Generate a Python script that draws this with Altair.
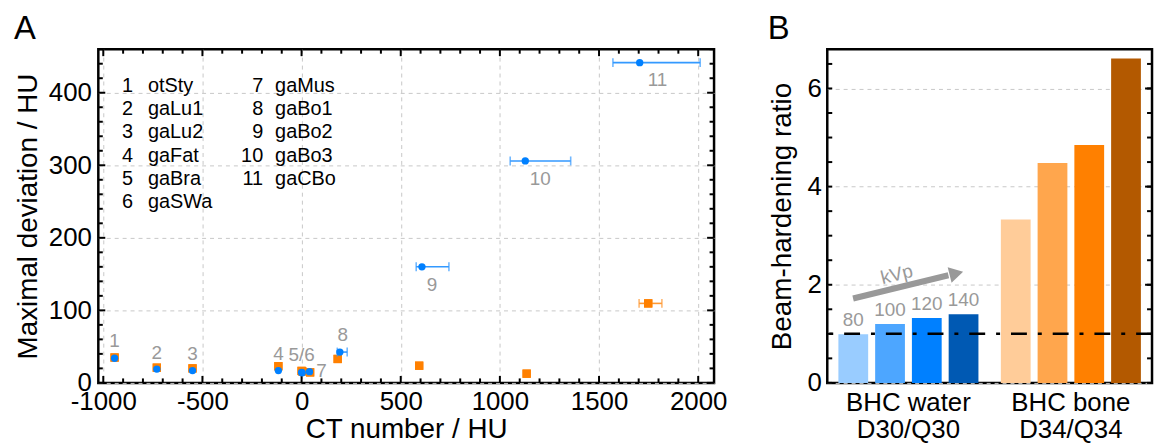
import altair as alt
import pandas as pd

# ---------------- Panel A data ----------------
ids = ["1", "2", "3", "4", "5", "6", "7", "8", "9", "10", "11"]
names = ["otSty", "gaLu1", "gaLu2", "gaFat", "gaBra", "gaSWa",
         "gaMus", "gaBo1", "gaBo2", "gaBo3", "gaCBo"]

ct_blue = [-943, -730, -550, -117, 0, 3, 40, 193, 607, 1128, 1705]
dev_blue = [34, 19, 17, 17, 14.5, 14, 15.5, 42.5, 160, 306, 441.5]
ct_blue_lo = [-943, -730, -550, -117, 0, 3, 40, 180, 578, 1052, 1570]
ct_blue_hi = [-943, -730, -550, -117, 0, 3, 40, 230, 743, 1357, 2010]

ct_orange = [-943, -730, -550, -117, 0, 3, 43, 182, 593, 1135, 1748]
dev_orange = [35, 21, 20, 23, 16.5, 16, 14.5, 33, 23.7, 12.7, 109.6]
ct_orange_lo = [-943, -730, -550, -117, 0, 3, 43, 182, 593, 1135, 1702]
ct_orange_hi = [-943, -730, -550, -117, 0, 3, 43, 182, 593, 1135, 1817]

point_labels = ["1", "2", "3", "4", "5/6", "", "7", "8", "9", "10", "11"]

x_ticks_major = [-1000, -500, 0, 500, 1000, 1500, 2000]
y_ticks_major = [0, 100, 200, 300, 400]

# ---------------- Panel B data ----------------
groups = ["BHC water\nD30/Q30", "BHC bone\nD34/Q34"]
kvp = ["80", "100", "120", "140"]
water_ratio = [0.99, 1.20, 1.32, 1.40]
bone_ratio = [3.33, 4.48, 4.85, 6.61]
water_colors = ["#99CCFF", "#4DA6FF", "#0080FF", "#0059B3"]
bone_colors = ["#FFCC99", "#FFA64D", "#FF8000", "#B35900"]
reference_ratio = [1]
b_ticks_major = [0, 2, 4, 6]

FONT = "Liberation Sans"
GRAY = "#999999"
BLUE = "#0080FF"
BLUE_ERR = "#3399FF"
ORANGE = "#FF8000"
ORANGE_ERR = "#FF9933"

# ---------------- Panel A ----------------
WA, HA = 620, 336
XD = [-1025, 2080]
YD = [0, 460]
xs = alt.Scale(domain=XD, nice=False, zero=False)
ys = alt.Scale(domain=YD, nice=False, zero=False)
ax_xa = alt.Axis(title="CT number / HU", values=x_ticks_major, ticks=False,
                 domain=False, grid=True, labelPadding=6, titlePadding=1,
                 labelExpr="'' + datum.value")
ax_ya = alt.Axis(title="Maximal deviation / HU", values=y_ticks_major,
                 ticks=False, domain=False, grid=True, labelPadding=7,
                 titlePadding=6, labelExpr="'' + datum.value")


def XA(field):
    return alt.X(field, scale=xs, axis=ax_xa)


def YA(field):
    return alt.Y(field, scale=ys, axis=ax_ya)


df_blue = pd.DataFrame({"id": ids, "ct": ct_blue, "dev": dev_blue,
                        "lo": ct_blue_lo, "hi": ct_blue_hi, "lab": point_labels})
df_or = pd.DataFrame({"id": ids, "ct": ct_orange, "dev": dev_orange,
                      "lo": ct_orange_lo, "hi": ct_orange_hi})

xt = pd.DataFrame({"v": list(range(-1000, 2001, 100))})
xt["major"] = xt["v"] % 500 == 0
yt = pd.DataFrame({"v": list(range(0, 461, 20))})
yt["major"] = yt["v"] % 100 == 0


def rule_x(df, y0, y1):
    return alt.Chart(df).mark_rule(color="black", strokeWidth=2).encode(
        x=XA("v:Q"), y=alt.value(y0), y2=alt.value(y1))


def rule_y(df, x0, x1, yenc):
    return alt.Chart(df).mark_rule(color="black", strokeWidth=2).encode(
        y=yenc("v:Q"), x=alt.value(x0), x2=alt.value(x1))


xt_maj = xt[xt["major"]]
xt_min = xt[~xt["major"]]
yt_maj = yt[yt["major"]]
yt_min = yt[~yt["major"]]
ticks_a = [
    rule_x(xt_maj, HA, HA - 7), rule_x(xt_min, HA, HA - 4.5),
    rule_x(xt_maj, 0, 7), rule_x(xt_min, 0, 4.5),
    rule_y(yt_maj, 0, 7, YA), rule_y(yt_min, 0, 4.5, YA),
    rule_y(yt_maj, WA, WA - 7, YA), rule_y(yt_min, WA, WA - 4.5, YA),
]

orange_pts = alt.Chart(df_or).mark_square(size=70, color=ORANGE, opacity=1).encode(
    x=XA("ct:Q"), y=YA("dev:Q"))


def err_layers(df, color):
    d = alt.Chart(df).transform_filter("datum.hi > datum.lo")
    bar = d.mark_rule(color=color, strokeWidth=1.6).encode(
        x=XA("lo:Q"), x2="hi:Q", y=YA("dev:Q"))
    cap_lo = d.mark_tick(color=color, orient="vertical", size=9, thickness=1.6).encode(
        x=XA("lo:Q"), y=YA("dev:Q"))
    cap_hi = d.mark_tick(color=color, orient="vertical", size=9, thickness=1.6).encode(
        x=XA("hi:Q"), y=YA("dev:Q"))
    return [bar, cap_lo, cap_hi]


blue_pts = alt.Chart(df_blue).mark_point(shape="circle", filled=True, size=55,
                                          color=BLUE, opacity=1).encode(
    x=XA("ct:Q"), y=YA("dev:Q"))

# label placement (pixel offsets from the blue marker)
label_offsets = {"1": (0, -17), "2": (0, -16), "3": (0, -17), "4": (0, -17),
                 "5/6": (0, -17), "7": (12, -1), "8": (3, -17),
                 "9": (10, 18), "10": (15, 18), "11": (18, 18)}
label_layers = []
for lab, (ddx, ddy) in label_offsets.items():
    label_layers.append(
        alt.Chart(df_blue).transform_filter(alt.datum.lab == lab).mark_text(
            font=FONT, fontSize=19, color=GRAY, dx=ddx, dy=ddy, baseline="middle",
            align="center").encode(x=XA("ct:Q"), y=YA("dev:Q"), text="lab:N"))

# material list printed inside panel A (pixel positions converted to data units)
kx = (XD[1] - XD[0]) / WA
ky = (YD[1] - YD[0]) / HA
df_leg = pd.DataFrame({"num": ids, "name": names})
leg_base = alt.Chart(df_leg).transform_window(i="row_number()").transform_calculate(
    col="floor((datum.i - 1) / 6)", row="(datum.i - 1) % 6"
).transform_calculate(
    nx=f"{XD[0]} + (35 + datum.col * 131) * {kx}",
    tx=f"{XD[0]} + (50 + datum.col * 128) * {kx}",
    ty=f"{YD[1]} - (37 + datum.row * 23.4) * {ky}",
)
leg_num = leg_base.mark_text(font=FONT, fontSize=20, align="right", baseline="middle",
                             color="black").encode(x=XA("nx:Q"), y=YA("ty:Q"), text="num:N")
leg_name = leg_base.mark_text(font=FONT, fontSize=20, align="left", baseline="middle",
                              color="black").encode(x=XA("tx:Q"), y=YA("ty:Q"), text="name:N")

label_a = alt.Chart(pd.DataFrame({"t": ["A"]})).mark_text(
    font=FONT, fontSize=33, align="left", baseline="alphabetic", color="black").encode(
    text="t:N", x=alt.value(-85), y=alt.value(-10))

panel_a = alt.layer(
    orange_pts, *ticks_a, *err_layers(df_or, ORANGE_ERR), orange_pts,
    *err_layers(df_blue, BLUE_ERR), blue_pts, *label_layers, leg_num, leg_name, label_a
).properties(width=WA, height=HA)

# ---------------- Panel B ----------------
WB, HB = 327, 336
ysb = alt.Scale(domain=[0, 6.8], nice=False, zero=False)
ax_yb = alt.Axis(title="Beam-hardening ratio", values=b_ticks_major, ticks=False,
                 domain=False, grid=True, labelPadding=6, titlePadding=11)


def YB(field):
    return alt.Y(field, scale=ysb, axis=ax_yb)


rows = []
for g, vals, cols in [(groups[0], water_ratio, water_colors), (groups[1], bone_ratio, bone_colors)]:
    for k, v, c in zip(kvp, vals, cols):
        rows.append({"group": g, "kvp": k, "ratio": v, "key": g + "|" + k, "col": c,
                     "lab": k if g == groups[0] else ""})
df_b = pd.DataFrame(rows)

xb = alt.X("group:N", sort=groups, scale=alt.Scale(paddingInner=0.095, paddingOuter=0.047),
           axis=alt.Axis(title=None, labelExpr="split(datum.label, '\\n')", ticks=False,
                         domain=False, labelPadding=7, labelAngle=0, labelLineHeight=27,
                         labelFontSize=26))
xo = alt.XOffset("kvp:N", sort=kvp, scale=alt.Scale(paddingInner=0.19, paddingOuter=0.095))

bars = alt.Chart(df_b).mark_bar().encode(
    x=xb, xOffset=xo, y=YB("ratio:Q"),
    color=alt.Color("key:N", scale=alt.Scale(domain=list(df_b["key"]), range=list(df_b["col"])),
                    legend=None),
)
bar_labels = alt.Chart(df_b).transform_filter("datum.lab != ''").mark_text(
    font=FONT, fontSize=19, color=GRAY, baseline="middle", dy=-14).encode(
    x=xb, xOffset=xo, y=YB("ratio:Q"), text="lab:N")

ref_line = alt.Chart(pd.DataFrame({"v": reference_ratio})).mark_rule(
    color="black", strokeWidth=2.5, strokeDash=[16, 11, 4, 11]).encode(y=YB("v:Q"))

one = pd.DataFrame({"t": ["kVp"]})
arrow_shaft = alt.Chart(one).mark_rule(color=GRAY, strokeWidth=6).encode(
    x=alt.value(26), x2=alt.value(122), y=alt.value(251), y2=alt.value(227.6))
arrow_head = alt.Chart(one).mark_point(shape="triangle-right", filled=True, size=260,
                                       color=GRAY, opacity=1, angle=346).encode(
    x=alt.value(130), y=alt.value(225.7))
kvp_text = alt.Chart(one).mark_text(font=FONT, fontSize=19, color=GRAY, angle=346,
                                    baseline="middle").encode(
    text="t:N", x=alt.value(70), y=alt.value(227))

bt = pd.DataFrame({"v": [i * 0.5 for i in range(0, 14)]})
bt_maj = bt[bt["v"].isin([2, 4, 6])]
ticks_b = [
    rule_y(bt, 0, 5, YB),
    rule_y(bt, WB, WB - 5, YB),
    rule_y(bt_maj, WB, WB - 7, YB),
]

label_b = alt.Chart(pd.DataFrame({"t": ["B"]})).mark_text(
    font=FONT, fontSize=33, align="left", baseline="alphabetic", color="black").encode(
    text="t:N", x=alt.value(-60), y=alt.value(-10))

panel_b = alt.layer(
    bars, ref_line, bar_labels, arrow_shaft, arrow_head, kvp_text, *ticks_b, label_b
).properties(width=WB, height=HB)

chart = alt.hconcat(panel_a, panel_b, spacing=37).properties(
    padding={"left": 12, "top": 10, "right": 0, "bottom": 0}
).configure(font=FONT).configure_view(
    stroke="black", strokeWidth=2.5
).configure_axis(
    labelFont=FONT, titleFont=FONT, labelFontSize=26, titleFontSize=28,
    titleFontWeight="normal", labelColor="black", titleColor="black",
    gridColor="#c8c8c8", gridDash=[4, 4], gridWidth=1
)

chart.save("out.html", embed_options={"renderer": "svg", "actions": False})
